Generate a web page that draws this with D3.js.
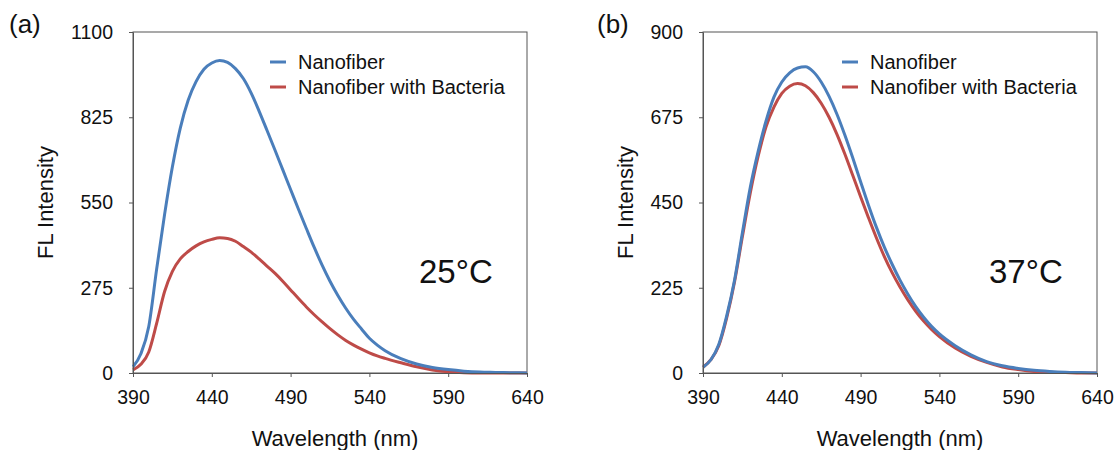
<!DOCTYPE html>
<html>
<head>
<meta charset="utf-8">
<script src="https://cdn.jsdelivr.net/npm/d3@7"></script>
<style>
  body { margin: 0; background: #fff; }
  svg { font-family: "Liberation Sans", Arial, sans-serif; }
  .axis path, .axis line { stroke: #555; }
  .axis text { font-size: 19.5px; fill: #111; }
</style>
</head>
<body>
<svg width="1117" height="450"></svg>
<script>
// wavelength samples (nm)
var wlA = [390,395,400,405,410,415,420,425,430,435,440,445,450,455,460,465,470,475,480,485,490,495,500,505,510,515,520,525,530,535,540,545,550,560,570,580,590,600,610,620,630,640];
var nanoA = [20,62,150,335,510,665,790,880,940,980,1000,1008,1002,982,950,903,845,783,720,656,592,528,466,405,348,296,250,209,173,142,112,90,72,46,29,18,11,6,3,2,1,0];
var bactA = [10,28,68,160,262,328,368,392,410,423,431,436,434,425,408,390,368,345,322,296,268,240,213,188,165,143,123,105,90,77,65,55,47,33,20,10,4,1,0,0,0,0];

var wlB = [390,395,400,405,410,415,420,425,430,435,440,445,450,455,460,465,470,475,480,485,490,495,500,505,510,515,520,525,530,535,540,550,560,570,580,590,600,610,620,630,640];
var nanoB = [15,35,75,150,245,370,490,585,665,728,768,792,805,808,795,768,730,683,628,568,505,443,385,333,287,245,208,175,147,123,103,72,48,30,19,12,7,4,2,1,0];
var bactB = [15,35,72,145,240,360,475,572,650,702,738,757,764,758,740,712,675,630,578,522,465,410,357,308,265,227,193,163,137,115,96,66,44,28,16,9,4,2,1,0,0];

var xTicks = [390,440,490,540,590,640];
var yTicksA = [0,275,550,825,1100];
var yTicksB = [0,225,450,675,900];
var seriesNames = ["Nanofiber", "Nanofiber with Bacteria"];
var colors = ["#4a7ebb", "#be4b48"];

var svg = d3.select("svg");

function panel(opts){
  var left = opts.left, top = 32, w = 394, h = 341;
  var g = svg.append("g").attr("transform", "translate(" + left + "," + top + ")");

  var x = d3.scaleLinear().domain([390, 640]).range([0, w]);
  var y = d3.scaleLinear().domain([0, opts.yMax]).range([h, 0]);

  // frame
  g.append("rect").attr("width", w).attr("height", h)
    .attr("fill", "none").attr("stroke", "#555").attr("stroke-width", 1);

  var line = d3.line()
    .x(function(d){ return x(d[0]); })
    .y(function(d){ return y(d[1]); })
    .curve(d3.curveMonotoneX);

  // red first so blue sits on top
  [1, 0].forEach(function(k){
    var pts = opts.wl.map(function(v, i){ return [v, opts.series[k][i]]; });
    g.append("path").datum(pts)
      .attr("d", line)
      .attr("fill", "none")
      .attr("stroke", colors[k])
      .attr("stroke-width", 3)
      .attr("stroke-linejoin", "round");
  });

  g.append("g").attr("class", "axis")
    .attr("transform", "translate(0," + h + ")")
    .call(d3.axisBottom(x).tickValues(xTicks).tickSize(4).tickPadding(13).tickSizeOuter(0));
  g.append("g").attr("class", "axis")
    .call(d3.axisLeft(y).tickValues(opts.yTicks).tickFormat(d3.format("d"))
      .tickSize(4).tickPadding(16).tickSizeOuter(0));

  // legend
  seriesNames.forEach(function(name, i){
    var ly = 30 + i * 25;
    g.append("line").attr("x1", opts.legX).attr("x2", opts.legX + 16)
      .attr("y1", ly).attr("y2", ly)
      .attr("stroke", colors[i]).attr("stroke-width", 3);
    g.append("text").attr("x", opts.legX + 28).attr("y", ly + 7)
      .attr("font-size", 20).attr("fill", "#111").text(name);
  });

  g.append("text").attr("x", opts.tempX).attr("y", 251)
    .attr("font-size", 33).attr("fill", "#111").text(opts.temp);

  g.append("text").attr("x", w / 2 + opts.titleShift).attr("y", 414)
    .attr("text-anchor", "middle").attr("font-size", 22).attr("fill", "#111")
    .text("Wavelength (nm)");

  g.append("text")
    .attr("transform", "translate(" + opts.yTitleX + "," + (h / 2) + ") rotate(-90)")
    .attr("text-anchor", "middle").attr("font-size", 22).attr("fill", "#111")
    .text("FL Intensity");

  g.append("text").attr("x", opts.labX - left).attr("y", 1)
    .attr("font-size", 26).attr("fill", "#111").text(opts.label);
}

panel({ left: 133, yMax: 1100, yTicks: yTicksA, wl: wlA, series: [nanoA, bactA],
  legX: 137, tempX: 286, temp: "25°C", label: "(a)", labX: 9, yTitleX: -80, titleShift: 5 });
panel({ left: 703, yMax: 900, yTicks: yTicksB, wl: wlB, series: [nanoB, bactB],
  legX: 139, tempX: 286, temp: "37°C", label: "(b)", labX: 597, yTitleX: -70, titleShift: 0 });
</script>
</body>
</html>
